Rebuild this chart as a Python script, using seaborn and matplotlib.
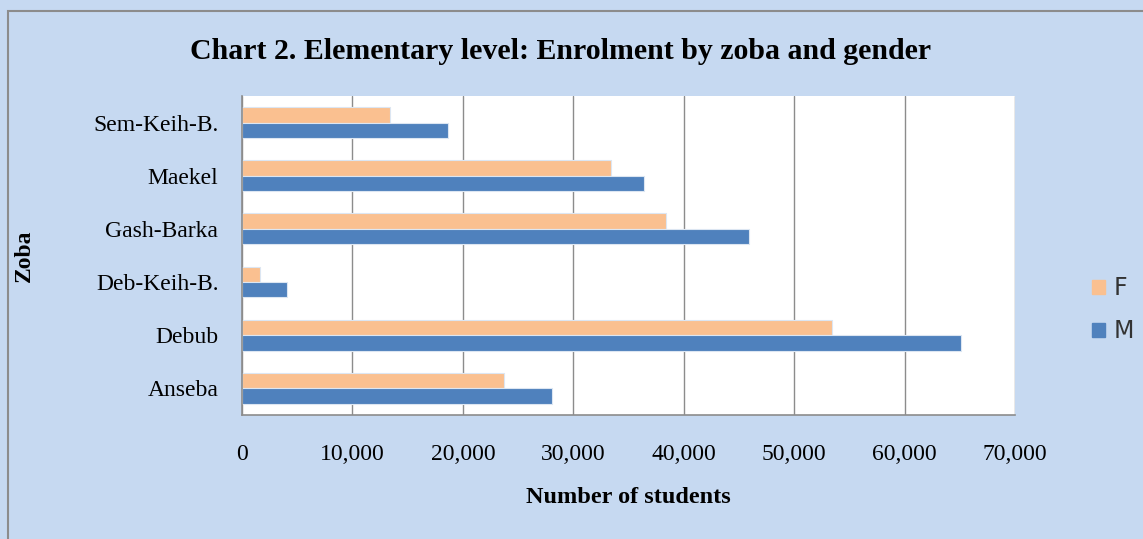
import pandas as pd
import numpy as np
import matplotlib
matplotlib.use("Agg")
import matplotlib.pyplot as plt
import seaborn as sns
from matplotlib.patches import Rectangle, Patch
from matplotlib.ticker import FuncFormatter, FixedLocator

# 데이터
zobas = ['Sem-Keih-B.', 'Maekel', 'Gash-Barka', 'Deb-Keih-B.', 'Debub', 'Anseba']
female = [13400, 33450, 38400, 1650, 53450, 23700]
male = [18700, 36450, 45900, 4100, 65100, 28100]
genders = ['F', 'M']
colors = {'F': '#FAC090', 'M': '#4F81BD'}

df = pd.DataFrame({'zoba': zobas * 2,
                   'gender': ['F'] * len(zobas) + ['M'] * len(zobas),
                   'students': female + male})

sns.set_style('white')
plt.rcParams['font.family'] = ['Liberation Serif', 'DejaVu Serif']
plt.rcParams['text.color'] = 'black'
plt.rcParams['axes.labelcolor'] = 'black'
plt.rcParams['xtick.color'] = 'black'
plt.rcParams['ytick.color'] = 'black'

bg = '#C6D9F1'
fig = plt.figure(figsize=(11.43, 5.39), dpi=100, facecolor=bg)
ax = fig.add_axes([0.2117, 0.230, 0.6763, 0.592])
ax.set_facecolor('white')

sns.barplot(data=df, y='zoba', x='students', hue='gender', order=zobas,
            hue_order=genders, palette=colors, saturation=1, orient='h',
            width=0.58, gap=0, edgecolor='#dce6f2', linewidth=0.8,
            legend=False, ax=ax)

ax.set_xlim(0, 70000)
ax.set_ylim(5.5, -0.5)
ax.xaxis.set_major_locator(FixedLocator(np.arange(0, 70001, 10000)))
ax.xaxis.set_major_formatter(FuncFormatter(lambda v, p: '{:,.0f}'.format(v)))
ax.grid(axis='x', color='#8c8c8c', linewidth=1.0)
ax.set_axisbelow(True)

for s in ['top', 'right']:
    ax.spines[s].set_visible(False)
for s in ['left', 'bottom']:
    ax.spines[s].set_color('#8c8c8c')
    ax.spines[s].set_linewidth(1.2)

# y축 눈금은 카테고리 경계에
ax.set_yticks(np.arange(-0.5, 6, 1), minor=True)
ax.tick_params(axis='y', which='major', length=0, pad=17, labelsize=17)
ax.tick_params(axis='y', which='minor', length=6, color='#8c8c8c', width=1.2, direction='out')
ax.tick_params(axis='x', which='major', length=7, color='#8c8c8c', width=1.2,
               direction='out', pad=14, labelsize=17)

ax.set_ylabel('Zoba', fontsize=17, fontweight='bold')
ax.set_xlabel('Number of students', fontsize=17.5, fontweight='bold', labelpad=16)
ax.yaxis.set_label_coords(-0.268, 0.5)

fig.text(0.49, 0.905, 'Chart 2. Elementary level: Enrolment by zoba and gender',
         ha='center', va='center', fontsize=21.5, fontweight='bold')

handles = [Patch(facecolor=colors[g], edgecolor=colors[g]) for g in genders]
fig.legend(handles, genders, loc='center left', bbox_to_anchor=(0.937, 0.425),
           frameon=False, prop={'family': 'DejaVu Sans', 'size': 17},
           handlelength=0.55, handleheight=0.55, handletextpad=0.34,
           labelspacing=0.8, labelcolor='#333333')

# 바깥 테두리
fig.patches.append(Rectangle((0.007, -0.01), 1.0, 0.99, transform=fig.transFigure,
                             fill=False, edgecolor='#8c8c8c', linewidth=1.5))

plt.savefig('out.png', dpi=100, facecolor=bg)
